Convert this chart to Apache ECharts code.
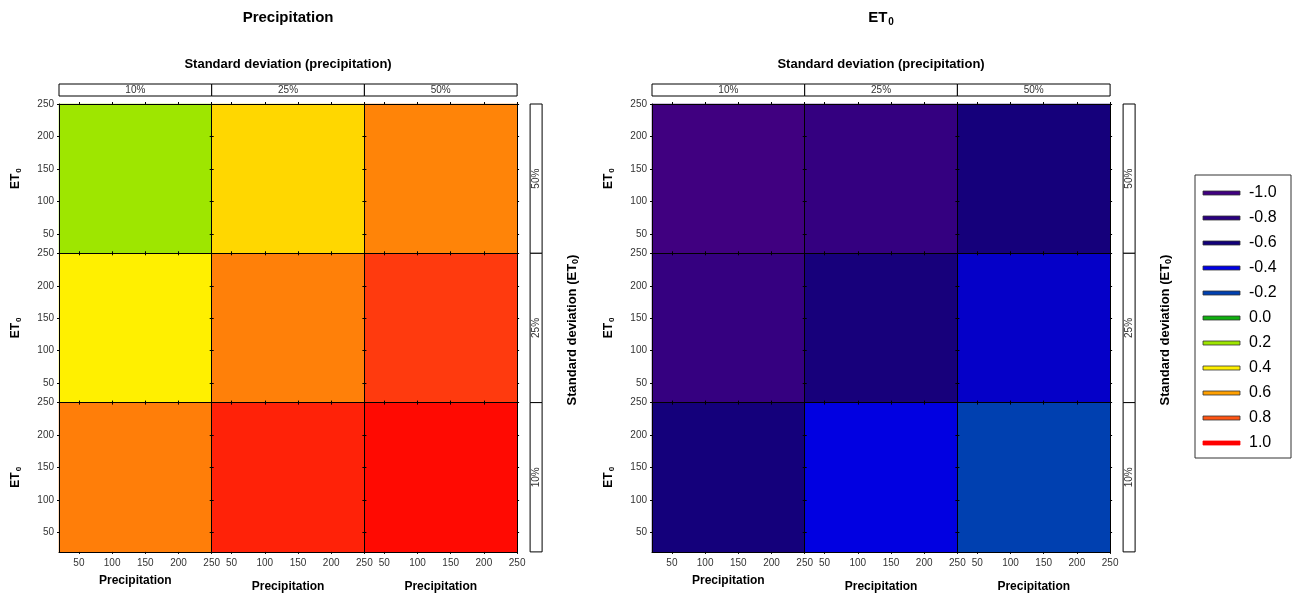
<!DOCTYPE html>
<html>
<head>
<meta charset="utf-8">
<script src="https://cdn.jsdelivr.net/npm/echarts@6/dist/echarts.min.js"></script>
<style>html,body{margin:0;padding:0;background:#fff}#main{width:1297px;height:599px}</style>
</head>
<body>
<div id="main"></div>
<script>
// legend levels and colours
var levels = [-1.0, -0.8, -0.6, -0.4, -0.2, 0.0, 0.2, 0.4, 0.6, 0.8, 1.0];
var levelColors = ['#400080', '#2a0080', '#12007a', '#0000e6', '#0040b0', '#10b010', '#9ee600', '#fff000', '#ffa000', '#ff5514', '#ff0000'];

// facet labels
var colLabels = ['10%', '25%', '50%'];   // sd precipitation (columns)
var rowLabels = ['50%', '25%', '10%'];   // sd ET0 (rows, top to bottom)

// panel values, rows top to bottom, columns left to right
var precipValues = [
    [0.2, 0.462, 0.675],
    [0.4, 0.685, 0.864],
    [0.69, 0.92, 0.976]
];
var et0Values = [
    [-1.0, -0.89, -0.625],
    [-0.9, -0.64, -0.456],
    [-0.62, -0.41, -0.2]
];

var tickValues = [50, 100, 150, 200, 250];
var axisMin = 20, axisMax = 250;

var chartDom = document.getElementById('main');
var myChart = echarts.init(chartDom);

var FONT = 'Liberation Sans, Arial, sans-serif';
var grids = [], xAxes = [], yAxes = [], series = [], graphics = [];

var lineStyle = { color: '#000', width: 1 };
var labelStyle = { color: '#333', fontSize: 10, fontFamily: FONT };
var richEt = {
    a: { fontSize: 12, fontWeight: 'bold', fontFamily: FONT, color: '#000' },
    b: { fontSize: 8, fontWeight: 'bold', fontFamily: FONT, color: '#000', padding: [6, 0, 0, 1] }
};

function addChart(left, values) {
    var colW = 152.7, rowH = 149.3, top = 104;
    for (var r = 0; r < 3; r++) {
        for (var c = 0; c < 3; c++) {
            var g = grids.length;
            grids.push({
                left: left + c * colW, top: top + r * rowH,
                width: colW, height: rowH, show: false
            });
            var bottomRow = r === 2, leftCol = c === 0;
            xAxes.push({
                type: 'value', gridIndex: g, position: 'bottom', min: axisMin, max: axisMax, z: 5,
                axisLine: { show: true, lineStyle: lineStyle },
                axisTick: { show: true, length: 2, customValues: tickValues, lineStyle: lineStyle },
                axisLabel: { show: bottomRow, customValues: tickValues, margin: 6, color: labelStyle.color, fontSize: 10, fontFamily: FONT },
                splitLine: { show: false },
                name: bottomRow ? 'Precipitation' : '',
                nameLocation: 'middle', nameGap: c === 0 ? 23 : 29,
                nameTextStyle: { fontSize: 12, fontWeight: 'bold', fontFamily: FONT, color: '#000' }
            });
            xAxes.push({
                type: 'value', gridIndex: g, position: 'top', min: axisMin, max: axisMax, z: 5,
                axisLine: { show: true, lineStyle: lineStyle },
                axisTick: { show: true, length: 2, customValues: tickValues, lineStyle: lineStyle },
                axisLabel: { show: false }, splitLine: { show: false }
            });
            xAxes.push({ type: 'category', gridIndex: g, data: ['p'], show: false });
            yAxes.push({
                type: 'value', gridIndex: g, position: 'left', min: axisMin, max: axisMax, z: 5,
                axisLine: { show: true, lineStyle: lineStyle },
                axisTick: { show: true, length: 2, customValues: tickValues, lineStyle: lineStyle },
                axisLabel: { show: leftCol, customValues: tickValues, margin: 5, color: labelStyle.color, fontSize: 10, fontFamily: FONT },
                splitLine: { show: false },
                name: leftCol ? '{a|ET}{b|0}' : '',
                nameLocation: 'middle', nameGap: 36,
                nameTextStyle: { rich: richEt }
            });
            yAxes.push({
                type: 'value', gridIndex: g, position: 'right', min: axisMin, max: axisMax, z: 5,
                axisLine: { show: true, lineStyle: lineStyle },
                axisTick: { show: true, length: 2, customValues: tickValues, lineStyle: lineStyle },
                axisLabel: { show: false }, splitLine: { show: false }
            });
            yAxes.push({ type: 'category', gridIndex: g, data: ['e'], show: false });
            series.push({
                type: 'heatmap',
                xAxisIndex: xAxes.length - 1,
                yAxisIndex: yAxes.length - 1,
                data: [[0, 0, values[r][c]]],
                itemStyle: { borderWidth: 0 },
                emphasis: { disabled: true }
            });
        }
    }
    // top strip
    for (var c2 = 0; c2 < 3; c2++) {
        graphics.push({
            type: 'rect', shape: { x: left + c2 * colW, y: 84, width: colW, height: 12 },
            style: { fill: '#fff', stroke: '#000', lineWidth: 1 }
        });
        graphics.push({
            type: 'text', x: left + c2 * colW + colW / 2, y: 90,
            style: { text: colLabels[c2], fill: '#333', font: '10px ' + FONT, align: 'center', verticalAlign: 'middle' }
        });
    }
    // right strip
    var sx = left + 3 * colW + 13;
    for (var r2 = 0; r2 < 3; r2++) {
        graphics.push({
            type: 'rect', shape: { x: sx, y: top + r2 * rowH, width: 12, height: rowH },
            style: { fill: '#fff', stroke: '#000', lineWidth: 1 }
        });
        graphics.push({
            type: 'text', x: sx + 6, y: top + r2 * rowH + rowH / 2, rotation: Math.PI / 2,
            style: { text: rowLabels[r2], fill: '#333', font: '10px ' + FONT, align: 'center', verticalAlign: 'middle' }
        });
    }
    var cx = left + 1.5 * colW;
    graphics.push({
        type: 'text', x: cx, y: 64,
        style: { text: 'Standard deviation (precipitation)', fill: '#000', font: 'bold 13px ' + FONT, align: 'center', verticalAlign: 'middle' }
    });
    graphics.push({
        type: 'text', x: sx + 42, y: 330, rotation: Math.PI / 2,
        style: {
            text: '{a|Standard deviation (ET}{b|0}{a|)}', align: 'center', verticalAlign: 'middle',
            rich: {
                a: { fontSize: 13, fontWeight: 'bold', fontFamily: FONT, fill: '#000' },
                b: { fontSize: 9, fontWeight: 'bold', fontFamily: FONT, fill: '#000', padding: [7, 0, 0, 0] }
            }
        }
    });
    return cx;
}

var c1 = addChart(59, precipValues);
var c2 = addChart(652, et0Values);

graphics.push({
    type: 'text', x: c1, y: 18,
    style: { text: 'Precipitation', fill: '#000', font: 'bold 15px ' + FONT, align: 'center', verticalAlign: 'middle' }
});
graphics.push({
    type: 'text', x: c2, y: 18,
    style: {
        text: '{a|ET}{b|0}', align: 'center', verticalAlign: 'middle',
        rich: {
            a: { fontSize: 15, fontWeight: 'bold', fontFamily: FONT, fill: '#000' },
            b: { fontSize: 10, fontWeight: 'bold', fontFamily: FONT, fill: '#000', padding: [9, 0, 0, 1] }
        }
    }
});

// legend box
graphics.push({
    type: 'rect', shape: { x: 1195, y: 175, width: 96, height: 283 },
    style: { fill: '#fff', stroke: '#333', lineWidth: 1 }
});
for (var i = 0; i < levels.length; i++) {
    var ly = 193 + i * 25;
    graphics.push({
        type: 'rect', shape: { x: 1203, y: ly - 2, width: 37, height: 4 },
        style: { fill: levelColors[i], stroke: i === levels.length - 1 ? levelColors[i] : '#333', lineWidth: 0.8 }
    });
    graphics.push({
        type: 'text', x: 1249, y: ly,
        style: { text: levels[i].toFixed(1), fill: '#000', font: '16px ' + FONT, align: 'left', verticalAlign: 'middle' }
    });
}

var option = {
    animation: false,
    grid: grids,
    xAxis: xAxes,
    yAxis: yAxes,
    visualMap: {
        type: 'continuous', show: false, min: -1, max: 1,
        seriesIndex: series.map(function (s, k) { return k; }),
        inRange: { color: levelColors }
    },
    series: series,
    graphic: graphics
};

option && myChart.setOption(option);
</script>
</body>
</html>
